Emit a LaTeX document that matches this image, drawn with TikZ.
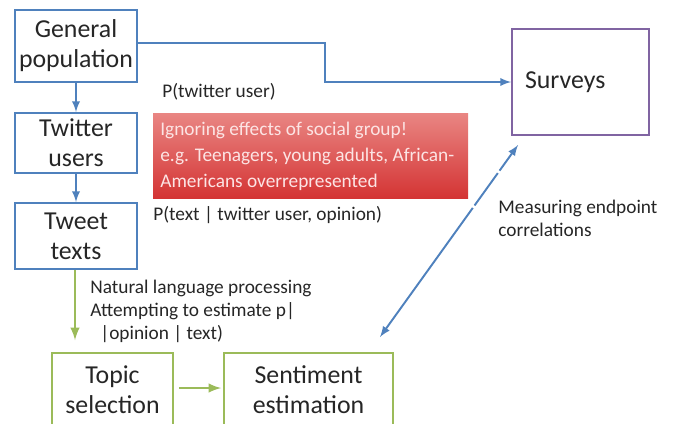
\documentclass[tikz,border=0pt]{standalone}
\usepackage{fontspec}
\setmainfont{Carlito}
\usepackage{tikz}
\usetikzlibrary{shapes,arrows,positioning,calc}
\definecolor{offblue}{HTML}{4F81BD}
\definecolor{offgreen}{HTML}{9BBB59}
\definecolor{offpurple}{HTML}{8064A2}
\definecolor{redtop}{HTML}{E98683}
\definecolor{redbot}{HTML}{D43434}
\definecolor{redtext}{HTML}{FCE4E4}
\definecolor{ink}{HTML}{262626}
\tikzstyle{stage} = [rectangle,draw=offblue,line width=1.1pt,align=center,inner sep=0pt,
  font=\fontsize{14.7}{17}\selectfont,text=ink]
\tikzstyle{nlpstage} = [stage,draw=offgreen]
\tikzstyle{note} = [anchor=west,align=left,inner sep=0pt,font=\fontsize{11}{13}\selectfont,text=ink]
\tikzstyle{blueline} = [draw=offblue,line width=1.1pt]
\tikzstyle{greenline} = [draw=offgreen,line width=1.4pt]

\begin{document}
\begin{tikzpicture}[>=latex,x=0.02cm,y=-0.02cm]
    \useasboundingbox (0,0) rectangle (675,423);

    \node [stage,minimum width=122*0.02cm,minimum height=72*0.02cm] (gp) at (76,46) {General\\population};
    \node [stage,minimum width=122*0.02cm,minimum height=60*0.02cm] (tw) at (76,143) {Twitter\\users};
    \node [stage,minimum width=122*0.02cm,minimum height=66*0.02cm] (tt) at (76,236) {Tweet\\texts};
    \node [nlpstage,minimum width=121*0.02cm,minimum height=74*0.02cm] (topic) at (112.5,390) {Topic\\selection};
    \node [nlpstage,minimum width=169*0.02cm,minimum height=74*0.02cm] (sent) at (308.5,390) {Sentiment\\estimation};
    \node [stage,draw=offpurple,align=left,text width=2.22cm,inner xsep=0.26cm,
      minimum height=106*0.02cm] (surv) at (580.5,82) {Surveys};

    % social group warning
    \node [rectangle,top color=redtop,bottom color=redbot,minimum width=315*0.02cm,
      minimum height=85*0.02cm] (warn) at (310.5,155.5) {};
    \node [note,text=redtext,font=\fontsize{11}{14.7}\selectfont] (warntxt) at (160,156.5)
      {Ignoring effects of social group!\\e.g. Teenagers, young adults, African-\\Americans overrepresented};

    \node [note] (puser) at (162,92) {P(twitter user)};
    \node [note] (ptext) at (153,215) {P(text | twitter user, opinion)};
    \node [note] (nlp) at (90,311.5) {Natural language processing\\Attempting to estimate p|\\\hspace{5.7pt}|opinion | text)};
    \node [note] (corr) at (498,218.5) {Measuring endpoint\\correlations};

    \coordinate (bend) at (325,82);
    \draw [blueline,->] (gp.east |- 0,43) -| (bend) -- (surv.west);
    \draw [blueline,->] (gp) -- (tw);
    \draw [blueline,->] (tw) -- (tt);
    \draw [greenline,->] (tt.south -| 75,0) -- ($(topic.north -| 75,0)+(0,-12)$);
    \draw [greenline,->] ($(topic.east)+(5,-2)$) -- ($(sent.west)+(-2,-2)$);

    \path
    coordinate (m1) at (518,145)
    coordinate (m2) at (380,337);
    \draw [blueline,<->,dash pattern=on 85pt off 1.7pt on 22.7pt off 1.7pt on 80pt] (m2) -- (m1);
  \end{tikzpicture}
\end{document}
